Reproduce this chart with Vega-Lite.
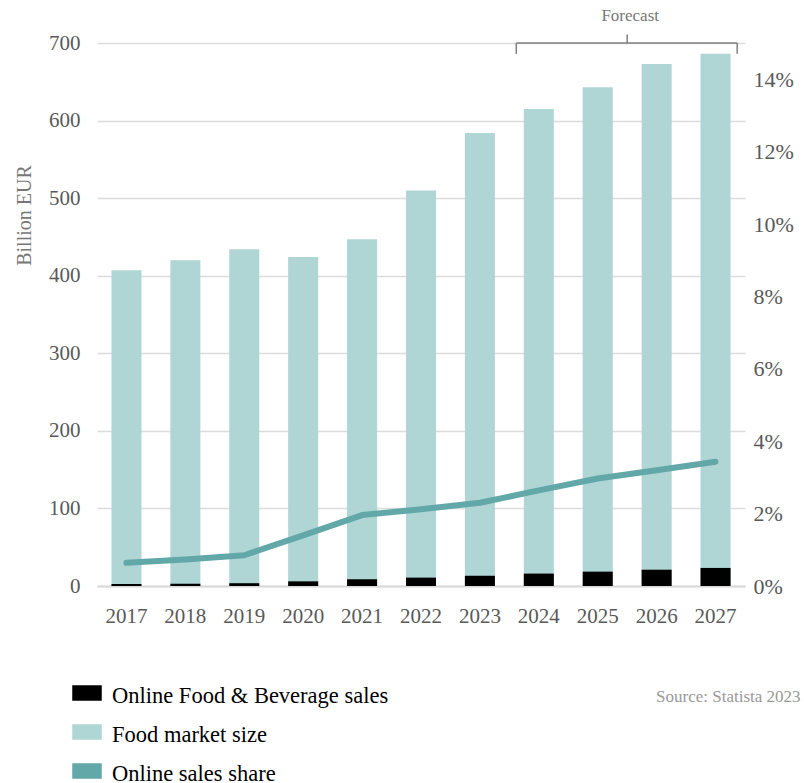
{
  "$schema": "https://vega.github.io/schema/vega-lite/v6.json",
  "width": 648,
  "height": 543,
  "autosize": {"type": "none"},
  "padding": {"left": 97, "top": 43, "right": 59, "bottom": 197},
  "config": {
    "view": {"stroke": null},
    "font": "Liberation Serif",
    "axis": {"labelFont": "Liberation Serif", "titleFont": "Liberation Serif"}
  },
  "data": {
    "values": [
      {"year": "2017", "market": 407, "online": 2.6, "share": 0.0064},
      {"year": "2018", "market": 420, "online": 3.0, "share": 0.0073},
      {"year": "2019", "market": 434, "online": 3.6, "share": 0.0085},
      {"year": "2020", "market": 424, "online": 6.0, "share": 0.014},
      {"year": "2021", "market": 447, "online": 8.7, "share": 0.0196},
      {"year": "2022", "market": 510, "online": 10.8, "share": 0.0212},
      {"year": "2023", "market": 584, "online": 13.2, "share": 0.023},
      {"year": "2024", "market": 615, "online": 16.0, "share": 0.0264},
      {"year": "2025", "market": 643, "online": 18.5, "share": 0.0297},
      {"year": "2026", "market": 673, "online": 21.0, "share": 0.032},
      {"year": "2027", "market": 686, "online": 23.3, "share": 0.0343}
    ]
  },
  "encoding": {
    "x": {
      "field": "year",
      "type": "nominal",
      "sort": null,
      "scale": {"paddingInner": 0.49, "paddingOuter": 0.245},
      "axis": {
        "title": null,
        "labelAngle": 0,
        "labelFontSize": 21,
        "labelColor": "#595959",
        "labelPadding": 19,
        "ticks": false,
        "domainColor": "#d9d9d9",
        "domainWidth": 2,
        "grid": false
      }
    }
  },
  "layer": [
    {
      "layer": [
        {
          "mark": {"type": "bar", "color": "#b0d5d5"},
          "encoding": {
            "y": {
              "field": "market",
              "type": "quantitative",
              "title": "Billion EUR",
              "scale": {"domain": [0, 700], "nice": false},
              "axis": {
                "values": [0, 100, 200, 300, 400, 500, 600, 700],
                "labelFontSize": 21,
                "labelColor": "#595959",
                "labelPadding": 17,
                "ticks": false,
                "domain": false,
                "gridColor": "#dcdcdc",
                "gridWidth": 1.5,
                "titleFontSize": 20,
                "titleFontWeight": "normal",
                "titleColor": "#777777",
                "titleAngle": -90,
                "titleX": -73,
                "titleY": 172,
                "titleAlign": "center",
                "titleBaseline": "middle"
              }
            },
            "color": {
              "datum": "Food market size",
              "type": "nominal",
              "scale": {
                "domain": ["Online Food & Beverage sales", "Food market size", "Online sales share"],
                "range": ["#000000", "#b0d5d5", "#62a8a9"]
              },
              "legend": {
                "title": null,
                "orient": "none",
                "legendX": -25,
                "legendY": 635,
                "direction": "vertical",
                "symbolType": "M-1,-0.5H1V0.5H-1Z",
                "symbolSize": 784,
                "labelFontSize": 22.5,
                "labelLimit": 0,
                "labelColor": "#000000",
                "labelOffset": 10,
                "rowPadding": 9,
                "encode": {
                  "symbols": {
                    "update": {
                      "fill": {"scale": "color", "field": "value"},
                      "stroke": {"value": "transparent"},
                      "opacity": {"value": 1}
                    }
                  },
                  "labels": {
                    "update": {
                      "dy": {"value": 3}
                    }
                  }
                }
              }
            }
          }
        },
        {
          "mark": {"type": "bar", "color": "#000000"},
          "encoding": {
            "y": {"field": "online", "type": "quantitative", "title": "Billion EUR"},
            "color": {"datum": "Online Food & Beverage sales", "type": "nominal"}
          }
        },
        {
          "data": {"values": [{}]},
          "mark": {"type": "rule", "color": "#808080", "strokeWidth": 1.5},
          "encoding": {
            "x": {"datum": "2024", "bandPosition": -0.25},
            "x2": {"datum": "2027", "bandPosition": 1.22},
            "y": {"datum": 700, "type": "quantitative"}
          }
        },
        {
          "data": {"values": [{}]},
          "mark": {"type": "rule", "color": "#808080", "strokeWidth": 1.5},
          "encoding": {
            "x": {"datum": "2024", "bandPosition": -0.25},
            "y": {"datum": 700, "type": "quantitative"},
            "y2": {"datum": 686}
          }
        },
        {
          "data": {"values": [{}]},
          "mark": {"type": "rule", "color": "#808080", "strokeWidth": 1.5},
          "encoding": {
            "x": {"datum": "2027", "bandPosition": 1.22},
            "y": {"datum": 700, "type": "quantitative"},
            "y2": {"datum": 686}
          }
        },
        {
          "data": {"values": [{}]},
          "mark": {"type": "rule", "color": "#808080", "strokeWidth": 1.5},
          "encoding": {
            "x": {"datum": "2026", "bandPosition": -0.48},
            "y": {"datum": 700, "type": "quantitative"},
            "y2": {"datum": 711}
          }
        },
        {
          "data": {"values": [{"label": "Forecast"}]},
          "mark": {"type": "text", "color": "#777777", "fontSize": 17, "baseline": "middle", "align": "center"},
          "encoding": {
            "x": {"datum": "2026", "bandPosition": -0.38},
            "y": {"datum": 735, "type": "quantitative"},
            "text": {"field": "label"}
          }
        },
        {
          "data": {"values": [{"label": "Source: Statista 2023"}]},
          "mark": {"type": "text", "color": "#999999", "fontSize": 17, "baseline": "middle", "align": "right", "dx": 70},
          "encoding": {
            "x": {"datum": "2027", "bandPosition": 1},
            "y": {"datum": -143, "type": "quantitative"},
            "text": {"field": "label"}
          }
        }
      ]
    },
    {
      "mark": {"type": "line", "color": "#62a8a9", "strokeWidth": 6, "strokeCap": "round", "strokeJoin": "round"},
      "encoding": {
        "x": {"field": "year", "type": "nominal", "sort": null, "bandPosition": 0.5},
        "y": {
          "field": "share",
          "type": "quantitative",
          "scale": {"domain": [0, 0.15], "nice": false},
          "axis": {
            "orient": "right",
            "title": null,
            "values": [0, 0.02, 0.04, 0.06, 0.08, 0.1, 0.12, 0.14],
            "format": ".0%",
            "labelFontSize": 22,
            "labelColor": "#595959",
            "labelPadding": 8,
            "ticks": false,
            "domain": false,
            "grid": false
          }
        },
        "color": {"datum": "Online sales share", "type": "nominal"}
      }
    }
  ],
  "resolve": {"scale": {"y": "independent"}}
}
